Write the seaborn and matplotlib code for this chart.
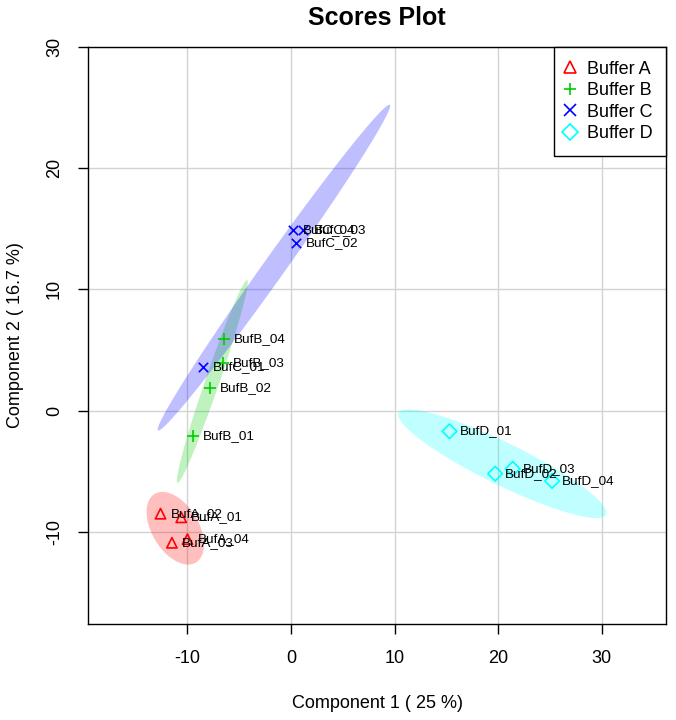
import numpy as np
import pandas as pd
import matplotlib
matplotlib.use('Agg')
import matplotlib.pyplot as plt
from matplotlib.lines import Line2D
import seaborn as sns

# ── DATA ─────────────────────────────────────────────────────────────────────
groups = ['Buffer A', 'Buffer B', 'Buffer C', 'Buffer D']
sample_names = ['BufA_02', 'BufA_01', 'BufA_04', 'BufA_03',
                'BufB_04', 'BufB_03', 'BufB_02', 'BufB_01',
                'BufC_01', 'BufC_04', 'BufC_03', 'BufC_02',
                'BufD_01', 'BufD_02', 'BufD_03', 'BufD_04']
sample_group = ['Buffer A'] * 4 + ['Buffer B'] * 4 + ['Buffer C'] * 4 + ['Buffer D'] * 4
pc1 = [-12.6, -10.6, -10.0, -11.5,
       -6.5, -6.6, -7.8, -9.5,
       -8.5, 0.2, 1.2, 0.5,
       15.3, 19.7, 21.4, 25.2]
pc2 = [-8.5, -8.8, -10.6, -10.9,
       5.9, 3.9, 1.9, -2.1,
       3.6, 14.9, 14.9, 13.8,
       -1.7, -5.2, -4.8, -5.8]

df = pd.DataFrame({'name': sample_names, 'group': sample_group, 'pc1': pc1, 'pc2': pc2})

colors = {'Buffer A': '#FF0000', 'Buffer B': '#00CD00', 'Buffer C': '#0000FF', 'Buffer D': '#00FFFF'}
markers = {'Buffer A': '^', 'Buffer B': '+', 'Buffer C': 'x', 'Buffer D': 'D'}

# ── PLOT ─────────────────────────────────────────────────────────────────────
sns.set_style('white')
plt.rcParams['font.family'] = ['Liberation Sans', 'DejaVu Sans']
plt.rcParams['axes.unicode_minus'] = False
plt.rcParams['text.color'] = 'black'
plt.rcParams['axes.labelcolor'] = 'black'
plt.rcParams['xtick.color'] = 'black'
plt.rcParams['ytick.color'] = 'black'

fig = plt.figure(figsize=(6.76, 7.2), dpi=100)
ax = fig.add_axes([88 / 676, 1 - 624 / 720, (666 - 88) / 676, (624 - 47) / 720])

# 95% confidence ellipses
t = np.sqrt(-2 * np.log(0.05))
theta = np.linspace(0, 2 * np.pi, 200)
for g in groups:
    sub = df[df['group'] == g]
    pts = sub[['pc1', 'pc2']].to_numpy()
    centre = pts.mean(axis=0)
    cov = np.cov(pts, rowvar=False)
    vals, vecs = np.linalg.eigh(cov)
    circle = np.vstack([np.cos(theta), np.sin(theta)])
    ell = (vecs @ np.diag(np.sqrt(vals)) @ circle) * t
    ax.fill(centre[0] + ell[0], centre[1] + ell[1], color=colors[g], alpha=0.25,
            lw=0, zorder=1)

for g in groups:
    sub = df[df['group'] == g]
    if markers[g] in ('^', 'D'):
        sns.scatterplot(data=sub, x='pc1', y='pc2', marker=markers[g], s=55,
                        facecolors='none', edgecolors=colors[g], linewidth=1.2,
                        ax=ax, zorder=3)
    else:
        size = 65 if markers[g] == '+' else 45
        sns.scatterplot(data=sub, x='pc1', y='pc2', marker=markers[g], s=size,
                        color=colors[g], linewidth=1.2, ax=ax, zorder=3)

for _, r in df.iterrows():
    ax.annotate(r['name'], (r['pc1'], r['pc2']), xytext=(10, 0),
                textcoords='offset pixels', va='center', ha='left', fontsize=9.7,
                zorder=4)

ax.set_xlim(-19.6, 36.2)
ax.set_ylim(-17.6, 30)
ax.set_xticks([-10, 0, 10, 20, 30])
ax.set_yticks([-10, 0, 10, 20, 30])
ax.grid(True, color='#D3D3D3', lw=1, zorder=0)
ax.set_axisbelow(True)
for s in ax.spines.values():
    s.set_color('black')
    s.set_linewidth(1)
ax.tick_params(axis='both', direction='out', length=7, width=1, color='black',
               labelsize=13, bottom=True, left=True)
ax.tick_params(axis='x', pad=12)
ax.tick_params(axis='y', pad=11)
plt.setp(ax.get_yticklabels(), rotation=90, va='center')

ax.set_xlabel('Component 1 ( 25 %)', fontsize=13, labelpad=20)
ax.set_ylabel('Component 2 ( 16.7 %)', fontsize=13, labelpad=16)
ax.set_title('Scores Plot', fontsize=18, fontweight='bold', pad=16)

handles = []
for g in groups:
    if markers[g] in ('^', 'D'):
        h = Line2D([], [], ls='none', marker=markers[g], mfc='none', mec=colors[g],
                   ms=8, mew=1.2, label=g)
    else:
        h = Line2D([], [], ls='none', marker=markers[g], color=colors[g],
                   ms=8, mew=1.2, label=g)
    handles.append(h)
leg = ax.legend(handles=handles, loc='upper right', borderaxespad=0, fontsize=13,
                frameon=True, fancybox=False, edgecolor='black', framealpha=1,
                handletextpad=0.8, handlelength=0.28, labelspacing=0.25, borderpad=0.75)
leg.get_frame().set_linewidth(1)

plt.savefig('out.png', dpi=100)
plt.close()
